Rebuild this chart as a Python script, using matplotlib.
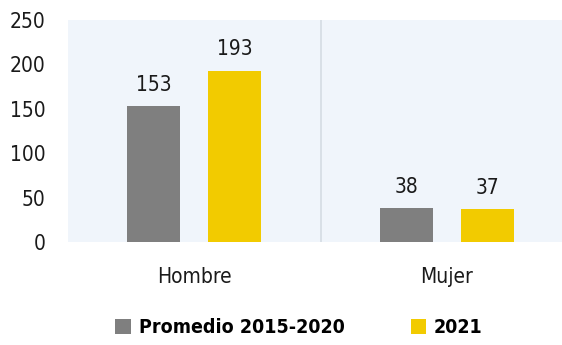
import matplotlib.pyplot as plt
import numpy as np

categorias = ["Hombre", "Mujer"]
promedio = [153, 38]
anio_2021 = [193, 37]
series = ["Promedio 2015-2020", "2021"]

plt.rcParams["font.family"] = ["DejaVu Sans"]
plt.rcParams["font.stretch"] = "condensed"

fig = plt.figure(figsize=(5.62, 3.45), dpi=100)
# axes extends a little past the right border of the figure
ax = fig.add_axes([68 / 562, 103 / 345, 505 / 562, 222 / 345])
ax.set_facecolor("#f0f5fb")

x = np.arange(len(categorias))
w = 0.21
b1 = ax.bar(x - 0.16, promedio, w, color="#7f7f7f", label=series[0])
b2 = ax.bar(x + 0.16, anio_2021, w, color="#f2cb00", label=series[1])

for bars in (b1, b2):
    for r in bars:
        ax.text(r.get_x() + r.get_width() / 2, r.get_height() + 13,
                f"{r.get_height():.0f}", ha="center", va="bottom",
                fontsize=15, color="#1a1a1a")

ax.axvline(0.5, color="#d5dce4", lw=1.2)

ax.set_xlim(-0.5, 1.5)
ax.set_ylim(0, 250)
ax.set_yticks(range(0, 251, 50))
ax.set_xticks(x)
ax.set_xticklabels(categorias)
ax.tick_params(length=0, labelsize=15, colors="#1a1a1a")
ax.tick_params(axis="x", pad=18)
ax.tick_params(axis="y", pad=16)
for s in ax.spines.values():
    s.set_visible(False)

leg = fig.legend(handles=[b1, b2], loc="center", bbox_to_anchor=(0.532, 0.05),
                 ncol=2, frameon=False, handlelength=0.8, handleheight=0.8,
                 handletextpad=0.4, columnspacing=3.4,
                 prop={"size": 14, "weight": "bold"})

fig.savefig("out.png", dpi=100, facecolor="white")
